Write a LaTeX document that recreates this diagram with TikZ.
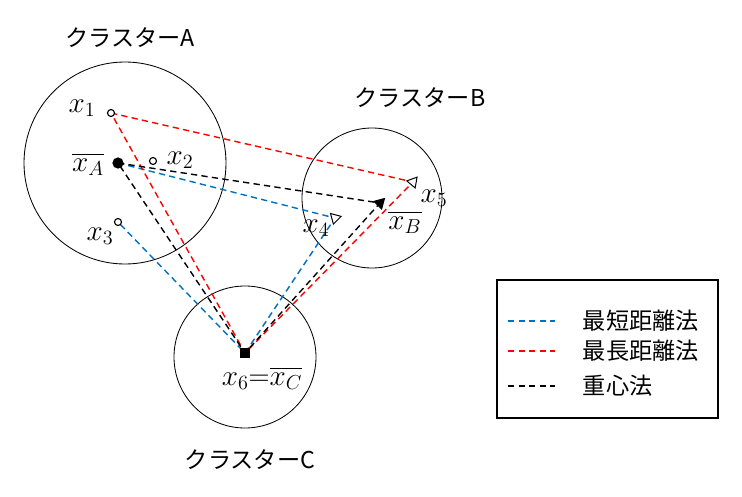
\documentclass[tikz,border=0pt]{standalone}
\usepackage{fontspec}
\usepackage{amsmath,amssymb}
\setmainfont{Noto Sans CJK JP}
\usetikzlibrary{shapes.geometric}
\definecolor{minBlue}{RGB}{0, 112, 192}
\definecolor{maxRed}{RGB}{255, 0, 0}

\tikzset{
    linkline/.style={line width=1pt, dash pattern=on 4.5pt off 3pt},
    openpt/.style={circle, draw=black, fill=white, line width=0.8pt, inner sep=0pt, minimum size=5pt},
    tripoint/.style={regular polygon, regular polygon sides=3, draw=black, line width=0.7pt, inner sep=0pt, minimum size=9pt},
    lbl/.style={font=\fontsize{16.5}{20}\selectfont},
    mlbl/.style={font=\fontsize{20.74}{25}\selectfont}
}

\begin{document}
\begin{tikzpicture}[x=1cm,y=1cm]
            \useasboundingbox (0,0) rectangle (18.55,12.4);

            % clusters
            \draw[line width=0.6pt] (3.125,8.325) circle (2.525);
            \draw[line width=0.6pt] (9.3,7.45) circle (1.75);
            \draw[line width=0.6pt] (6.125,3.475) circle (1.775);

            \node[lbl] (titleA) at (3.25,11.45) {クラスターA};
            \node[lbl] (titleB) at (10.5,9.95) {クラスターB};
            \node[lbl] (titleC) at (6.25,0.9) {クラスターC};

            % points
            \coordinate (p1) at (2.775,9.575);
            \coordinate (pA) at (2.95,8.325);
            \coordinate (p2) at (3.825,8.375);
            \coordinate (p3) at (2.95,6.85);
            \coordinate (p4) at (8.375,6.95);
            \coordinate (p5) at (10.325,7.85);
            \coordinate (pB) at (9.5,7.325);
            \coordinate (p6) at (6.125,3.575);

            % links
            \draw[linkline, minBlue] (pA) -- (p4) -- (p6) -- (p3);
            \draw[linkline, maxRed] (p1) -- (p5) -- (p6) -- cycle;
            \draw[linkline, black] (pA) -- (pB) -- (p6) -- cycle;

            % markers
            \node[openpt] (m1) at (p1) {};
            \node[openpt] (m2) at (p2) {};
            \node[openpt] (m3) at (p3) {};
            \node[circle, fill=black, inner sep=0pt, minimum size=8pt] (mA) at (pA) {};
            \node[tripoint, fill=white, shape border rotate=165] (m4) at (p4) {};
            \node[tripoint, fill=white, shape border rotate=200] (m5) at (p5) {};
            \node[tripoint, fill=black, shape border rotate=195] (mB) at (pB) {};
            \node[rectangle, fill=black, inner sep=0pt, minimum size=7pt] (m6) at (p6) {};

            \node[mlbl] (l1) at (2.05,9.7) {$x_1$};
            \node[mlbl] (lA) at (2.2,8.3) {$\overline{x_A}$};
            \node[mlbl] (l2) at (4.5,8.4) {$x_2$};
            \node[mlbl] (l3) at (2.5,6.5) {$x_3$};
            \node[mlbl] (l4) at (7.9,6.7) {$x_4$};
            \node[mlbl] (l5) at (10.85,7.45) {$x_5$};
            \node[mlbl] (lB) at (10.125,6.85) {$\overline{x_B}$};
            \node[mlbl] (l6) at (6.55,2.95) {$x_6{=}\overline{x_C}$};

            % legend
            \draw[line width=0.8pt] (12.425,1.95) rectangle (17.95,5.4);
            \coordinate (k1a) at (12.7,4.375);
            \coordinate (k1b) at (13.875,4.375);
            \coordinate (k2a) at (12.7,3.625);
            \coordinate (k2b) at (13.875,3.625);
            \coordinate (k3a) at (12.7,2.75);
            \coordinate (k3b) at (13.875,2.75);
            \draw[linkline, minBlue] (k1a) -- (k1b);
            \draw[linkline, maxRed] (k2a) -- (k2b);
            \draw[linkline, black] (k3a) -- (k3b);
            \node[lbl, anchor=west] (t1) at (14.45,4.375) {最短距離法};
            \node[lbl, anchor=west] (t2) at (14.45,3.625) {最長距離法};
            \node[lbl, anchor=west] (t3) at (14.45,2.75) {重心法};
        \end{tikzpicture}
\end{document}
